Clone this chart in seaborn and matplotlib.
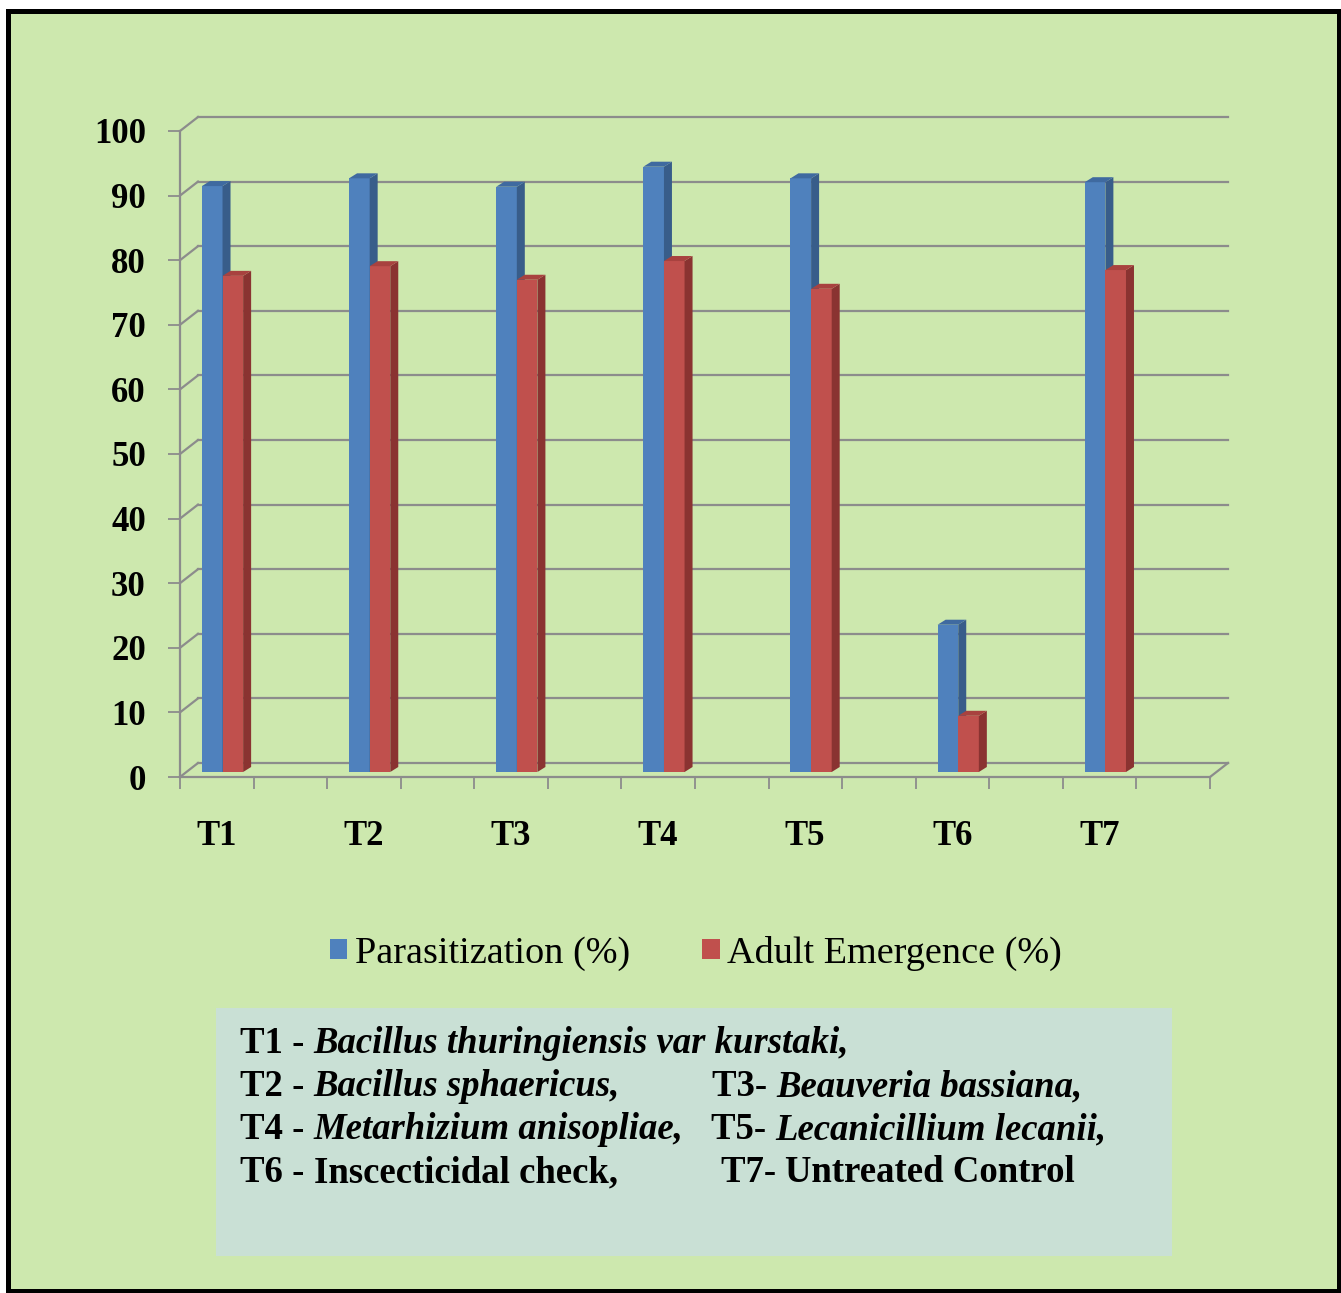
import numpy as np
import pandas as pd
import matplotlib
matplotlib.use("Agg")
import matplotlib.pyplot as plt
import matplotlib.transforms as mtrans
from matplotlib.patches import Rectangle, Polygon, Patch
from matplotlib.font_manager import FontProperties
import seaborn as sns

# ---------------- data ----------------
treatments = ["T1", "T2", "T3", "T4", "T5", "T6", "T7"]
parasitization = [90.7, 91.9, 90.6, 93.7, 91.9, 22.8, 91.3]
adult_emergence = [76.8, 78.3, 76.2, 79.1, 74.8, 8.7, 77.7]
series_names = ["Parasitization (%)", "Adult Emergence (%)"]
y_ticks = list(range(0, 101, 10))

key_codes = ["T1 - ", "T2 - ", "T3- ", "T4 - ", "T5- ", "T6 - ", "T7- "]
key_names = ["Bacillus thuringiensis var kurstaki,", "Bacillus sphaericus,",
             "Beauveria bassiana,", "Metarhizium anisopliae,",
             "Lecanicillium lecanii,", "Inscecticidal check,", "Untreated Control"]
key_italic = [True, True, True, True, True, False, False]

# ---------------- style ----------------
GREEN = "#CDE8AE"
BOX = "#C9E0D5"
BLUE, BLUE_SIDE, BLUE_TOP = "#4F81BD", "#385D8A", "#3F6AA0"
RED, RED_SIDE, RED_TOP = "#C0504D", "#8A3331", "#A8423F"
GRID = "#8C8C8C"
SERIF = "Liberation Serif"

W, H = 1341, 1293
fig = plt.figure(figsize=(W / 100, H / 100), dpi=100, facecolor="white")


def fx(x):
    return x / W


def fy(y):
    return 1 - y / H


bg = Rectangle((fx(7.5), fy(1291)), fx(1339) - fx(7.5), fy(10.5) - fy(1291),
               transform=fig.transFigure, facecolor=GREEN, edgecolor="black",
               linewidth=3.6, zorder=-10)
fig.patches.append(bg)

ax = fig.add_axes([fx(180), fy(777), (1210 - 180) / W, (777 - 131) / H])
ax.set_facecolor("none")

df = pd.DataFrame({
    "Treatment": treatments * 2,
    "Value": parasitization + adult_emergence,
    "Series": [series_names[0]] * len(treatments) + [series_names[1]] * len(treatments),
})
sns.barplot(data=df, x="Treatment", y="Value", hue="Series", hue_order=series_names,
            palette=[BLUE, RED], width=0.28, gap=0, saturation=1, errorbar=None,
            legend=False, ax=ax)

xl, xr = -0.289, 6.711
ax.set_xlim(xl, xr)
ax.set_ylim(0, 100)

px_per_x = 1030 / (xr - xl)
px_per_y = 646 / 100.0
ddx = 8 / px_per_x
ddy = 5 / px_per_y

t_bar = mtrans.offset_copy(ax.transData, fig=fig, x=0, y=5, units="dots")
n = len(treatments)
bar_patches = list(ax.patches)[:2 * n]
for i, p in enumerate(bar_patches):
    is_blue = i < n
    z = 2 if is_blue else 3
    side_c = BLUE_SIDE if is_blue else RED_SIDE
    top_c = BLUE_TOP if is_blue else RED_TOP
    p.set_transform(t_bar)
    p.set_zorder(z)
    p.set_edgecolor("none")
    x0, w, h = p.get_x(), p.get_width(), p.get_height()
    side = Polygon([(x0 + w, 0), (x0 + w + ddx, ddy), (x0 + w + ddx, h + ddy), (x0 + w, h)],
                   closed=True, facecolor=side_c, edgecolor="none", transform=t_bar, zorder=z + 0.1)
    top = Polygon([(x0, h), (x0 + ddx, h + ddy), (x0 + w + ddx, h + ddy), (x0 + w, h)],
                  closed=True, facecolor=top_c, edgecolor="none", transform=t_bar, zorder=z + 0.1)
    ax.add_patch(side)
    ax.add_patch(top)

# back wall gridlines
t_back = mtrans.offset_copy(ax.transData, fig=fig, x=18, y=14, units="dots")
for v in y_ticks:
    ax.plot([xl, xr], [v, v], transform=t_back, color=GRID, lw=1.6, zorder=1, clip_on=False)
# diagonal connectors
for v in y_ticks:
    px0 = ax.transData.transform((xl, v))
    ax.plot([px0[0], px0[0] + 18], [px0[1], px0[1] + 14], transform=mtrans.IdentityTransform(),
            color=GRID, lw=1.6, zorder=1, clip_on=False)
pr = ax.transData.transform((xr, 0))
ax.plot([pr[0], pr[0] + 18], [pr[1], pr[1] + 14], transform=mtrans.IdentityTransform(),
        color=GRID, lw=1.6, zorder=1, clip_on=False)

# spines & ticks
for s in ["top", "right"]:
    ax.spines[s].set_visible(False)
for s in ["left", "bottom"]:
    ax.spines[s].set_color(GRID)
    ax.spines[s].set_linewidth(1.6)

ax.set_yticks(y_ticks)
ax.set_yticklabels([str(v) for v in y_ticks], fontfamily=SERIF, fontweight="bold",
                   fontsize=25, color="black")
ax.tick_params(axis="y", direction="out", length=8.6, width=1.3, color=GRID, pad=16)

ax.set_xticks(np.arange(n) - 6 / px_per_x)
ax.set_xticklabels(treatments, fontfamily=SERIF, fontweight="bold", fontsize=25, color="black")
ax.set_xticks(xl + 0.5 * np.arange(15), minor=True)
ax.tick_params(axis="x", which="major", length=0, pad=31)
ax.tick_params(axis="x", which="minor", direction="out", length=8.6, width=1.3, color=GRID)
ax.set_xlabel("")
ax.set_ylabel("")

# legend
fig.legend(handles=[Patch(facecolor=BLUE), Patch(facecolor=RED)], labels=series_names,
           loc="center", bbox_to_anchor=(fx(696), fy(953)), ncol=2, frameon=False,
           prop=FontProperties(family=SERIF, size=27.5), handlelength=0.45, handleheight=0.45,
           handletextpad=0.2, columnspacing=1.9)

# key box
box = Rectangle((fx(216), fy(1256)), fx(1172) - fx(216), fy(1008) - fy(1256),
                transform=fig.transFigure, facecolor=BOX, edgecolor="none", zorder=-5)
fig.patches.append(box)

key_pos = [(240, 1053), (240, 1096), (712, 1096), (240, 1139), (711, 1139), (240, 1182), (721, 1182)]
renderer = fig.canvas.get_renderer()
for code, name, ital, (kx, ky) in zip(key_codes, key_names, key_italic, key_pos):
    t1 = fig.text(fx(kx), fy(ky), code, fontfamily=SERIF, fontweight="bold", fontsize=26.5,
                  va="baseline", ha="left", zorder=2)
    bb = t1.get_window_extent(renderer=renderer)
    fig.text(bb.x1 / W, fy(ky), name, fontfamily=SERIF, fontweight="bold",
             fontstyle="italic" if ital else "normal", fontsize=26.5,
             va="baseline", ha="left", zorder=2)

fig.savefig("out.png", dpi=100, facecolor=fig.get_facecolor())
